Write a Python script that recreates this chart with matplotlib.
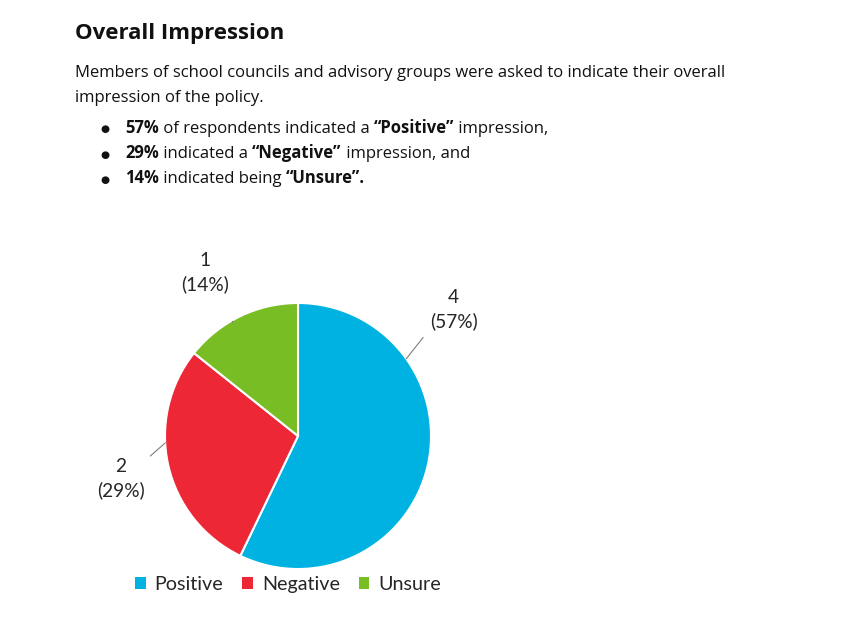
import numpy as np
import matplotlib
matplotlib.use("Agg")
import matplotlib.pyplot as plt
from matplotlib.patches import Patch

# --- data -------------------------------------------------------------
categories = ["Positive", "Negative", "Unsure"]
counts = [4, 2, 1]
percents = [57, 29, 14]
colors = ["#00B2E1", "#EE2737", "#79BD24"]

title = "Overall Impression"
intro = ["Members of school councils and advisory groups were asked to indicate their overall",
         "impression of the policy."]
bullets = [
    [("57%", True), (" of respondents indicated a ", False), ("\u201cPositive\u201d", True), (" impression,", False)],
    [("29%", True), (" indicated a ", False), ("\u201cNegative\u201d", True), (" impression, and", False)],
    [("14%", True), (" indicated being ", False), ("\u201cUnsure\u201d.", True)],
]

W, H = 847, 622
fig = plt.figure(figsize=(W / 100, H / 100), dpi=100)
fig.patch.set_facecolor("white")
TXT = ["Open Sans", "DejaVu Sans"]
CHART = ["Lato", "DejaVu Sans"]


def px(x, y):
    # pixel coords measured from top-left -> figure fraction
    return x / W, 1 - y / H


renderer = fig.canvas.get_renderer()


def runs(x, y, parts, size=11.95):
    for s, bold in parts:
        t = fig.text(*px(x, y), s, fontsize=size, family=TXT, va="baseline", ha="left",
                     weight="bold" if bold else "normal", color="#111111")
        x += t.get_window_extent(renderer).width


fig.text(*px(75, 39.5), title, fontsize=16, family=TXT, weight="bold", va="baseline", color="#111111")
for i, line in enumerate(intro):
    runs(75, 77 + i * 25.5, [(line, False)])
for i, parts in enumerate(bullets):
    y = 132.8 + i * 25.3
    fig.text(*px(100, y - 0.5), "\u25cf", fontsize=7.5, family=TXT, va="baseline", color="#111111")
    runs(125, y, parts)

# --- pie ---------------------------------------------------------------
cx, cy, r = 298, 436, 133
ax = fig.add_axes([(cx - r) / W, (H - cy - r) / H, 2 * r / W, 2 * r / H])
wedges, _ = ax.pie(counts, colors=colors, startangle=90, counterclock=False, radius=1,
                   wedgeprops=dict(edgecolor="white", linewidth=1.5))
ax.set_xlim(-1, 1)
ax.set_ylim(-1, 1)
ax.set_aspect("equal")
ax.axis("off")

# label placement: (edge angle of leader, leader end, label centre) in radii
label_style = [
    (35.5, (0.94, 0.74), (1.17, 0.95)),
    (183.0, (-1.11, -0.15), (-1.33, -0.32)),
    (120.0, (-0.50, 0.86), (-0.70, 1.23)),
]
for cnt, pct, (ang, lend, lpos) in zip(counts, percents, label_style):
    a = np.deg2rad(ang)
    ax.plot([np.cos(a), lend[0]], [np.sin(a), lend[1]], color="#7f7f7f", lw=0.8, clip_on=False)
    ax.text(lpos[0], lpos[1], f"{cnt}\n({pct}%)", ha="center", va="center", fontsize=13.8,
            family=CHART, color="#262626", linespacing=1.38, clip_on=False)

handles = [Patch(facecolor=c, edgecolor="none") for c in colors]
fig.legend(handles, categories, loc="center", bbox_to_anchor=px(288, 584.5), ncol=3, frameon=False,
           prop=dict(family=CHART, size=14.2), handlelength=0.55, handleheight=0.55,
           handletextpad=0.45, columnspacing=0.95, labelcolor="#262626")

fig.savefig("out.png", dpi=100, facecolor="white")
